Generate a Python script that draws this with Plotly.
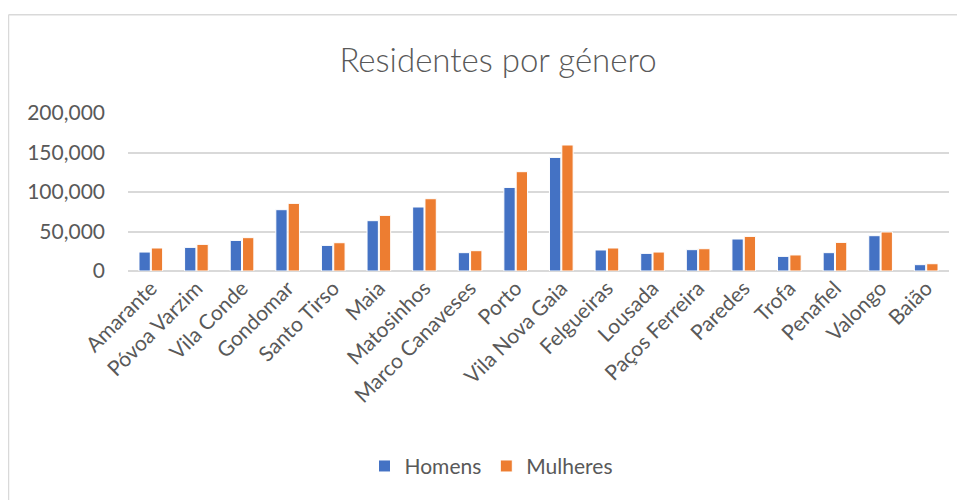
import plotly.graph_objects as go

categories = ["Amarante", "Póvoa Varzim", "Vila Conde", "Gondomar", "Santo Tirso", "Maia",
              "Matosinhos", "Marco Canaveses", "Porto", "Vila Nova Gaia", "Felgueiras", "Lousada",
              "Paços Ferreira", "Paredes", "Trofa", "Penafiel", "Valongo", "Baião"]
homens = [24000, 29900, 38700, 77600, 32400, 63700, 81000, 23200, 105800, 143800,
          26600, 22300, 27000, 40500, 18500, 23200, 44700, 8000]
mulheres = [29100, 33700, 42200, 85600, 35800, 70400, 91500, 25700, 125700, 159500,
            29100, 24000, 28200, 43800, 20300, 36200, 49400, 9200]
y_ticks = [0, 50000, 100000, 150000, 200000]

OFF = 8  # page body margin
W, H = 965 - OFF, 500 - OFF
# reference-pixel positions of plot area
PL, PR, PT, PB = 128, 949, 113, 271.3
L, R, T, B = PL - OFF, 965 - PR, PT - OFF, 500 - PB
pw, ph = PR - PL, PB - PT

def px_x(x):
    return (x - PL) / pw

def px_y(y):
    return (PB - y) / ph

FONT = "Lato"
GREY = "#595959"

fig = go.Figure()
fig.add_trace(go.Bar(name="Homens", x=categories, y=homens,
                     marker=dict(color="#4472C4", line=dict(color="white", width=1))))
fig.add_trace(go.Bar(name="Mulheres", x=categories, y=mulheres,
                     marker=dict(color="#ED7D31", line=dict(color="white", width=1))))

fig.update_layout(
    width=W, height=H,
    margin=dict(l=L, r=R, t=T, b=B, autoexpand=False),
    paper_bgcolor="white", plot_bgcolor="white",
    barmode="group", bargap=0.46, bargroupgap=0.08,
    font=dict(family=FONT, color=GREY, size=21),
    title=dict(text="Residentes por género", x=(498 - OFF) / W, xanchor="center",
               y=1 - (60 - OFF) / H, yanchor="middle", yref="container",
               font=dict(family=FONT, size=33, color=GREY, weight=300)),
    legend=dict(orientation="h", x=px_x(491), xanchor="center", y=px_y(467), yanchor="middle",
                font=dict(family=FONT, size=21, color=GREY), itemwidth=30,
                traceorder="normal"),
    xaxis=dict(tickangle=-45, showgrid=False, showline=False, ticks="",
               tickfont=dict(family=FONT, size=21, color=GREY)),
    yaxis=dict(range=[0, 200000], tickvals=y_ticks, tickformat=",d",
               showgrid=True, gridcolor="#d9d9d9", gridwidth=1.5,
               zeroline=True, zerolinecolor="#d9d9d9", zerolinewidth=1.5,
               showline=False, ticks="", ticklabelstandoff=22,
               tickfont=dict(family=FONT, size=21, color=GREY)),
    shapes=[
        dict(type="line", xref="paper", yref="paper", x0=px_x(8.5), x1=px_x(8.5),
             y0=px_y(14.5), y1=px_y(505), line=dict(color="#d9d9d9", width=1.5)),
        dict(type="line", xref="paper", yref="paper", x0=px_x(8.5), x1=px_x(970),
             y0=px_y(14.5), y1=px_y(14.5), line=dict(color="#d9d9d9", width=1.5)),
    ],
    showlegend=True,
)

fig.write_html("out.html")
